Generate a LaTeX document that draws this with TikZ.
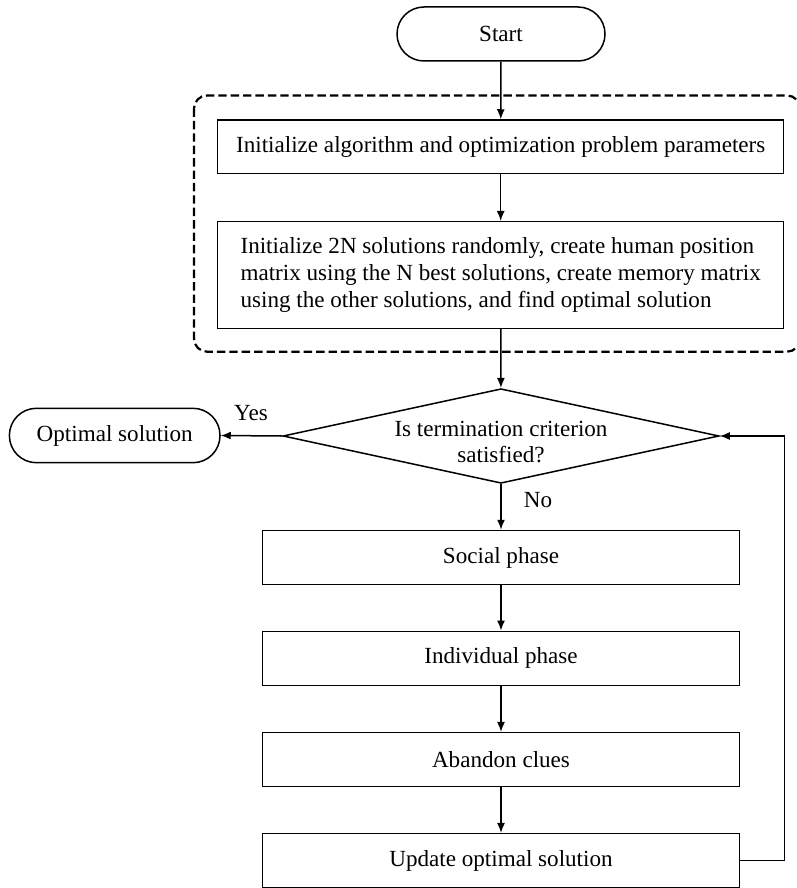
\documentclass[tikz,border=0pt]{standalone}
\usepackage{fontspec}
\setmainfont{Liberation Serif}
\usetikzlibrary{arrows.meta,shapes.geometric}

\begin{document}
\fontsize{11.55}{13.4}\selectfont
\begin{tikzpicture}[x=0.5pt, y=-0.5pt,
        every node/.style={inner sep=0pt},
        terminal/.style={draw, line width=0.75pt, rounded corners=13.5pt, minimum width=104pt, minimum height=27pt},
        process/.style={draw, line width=0.75pt, minimum width=238.5pt, minimum height=27pt},
        initbox/.style={draw, line width=0.75pt, minimum width=283pt},
        decision/.style={draw, line width=0.75pt, diamond, minimum width=218pt, minimum height=47.3pt},
        arrow/.style={-{Latex[length=5pt, width=4pt]}, line width=0.75pt}]
        \useasboundingbox (0, 0) rectangle (797, 888);

        % Draw the start and the initialization steps
        \node[terminal] (start) at (501, 34) {Start};
        \node[initbox, minimum height=26.7pt] (init) at (500.7, 146.7) {Initialize algorithm and optimization problem parameters};
        \node[initbox, minimum height=53.3pt, align=left] (initsol) at (500.7, 275) {Initialize 2N solutions randomly, create human position\\matrix using the N best solutions, create memory matrix\\using the other solutions, and find optimal solution};

        % Draw the dashed frame round the initialization
        \draw[dash pattern=on 4.2pt off 2pt, line width=1.1pt, rounded corners=6.5pt] (194, 95.5) rectangle (800, 351.7);

        % Draw the termination check
        \node[decision] (check) at (501, 436) {};
        \node[align=center] (checktext) at (501, 442) {Is termination criterion\\satisfied?};
        \node[terminal, minimum width=105.3pt, minimum height=27.2pt] (optimal) at (114.7, 435.5) {Optimal solution};
        \node (yes) at (251, 413) {Yes};
        \node (no) at (538, 500) {No};

        % Draw the phases of the main loop
        \node[process] (social) at (501, 557.5) {Social phase};
        \node[process] (individual) at (501, 658.3) {Individual phase};
        \node[process] (abandon) at (501, 759.7) {Abandon clues};
        \node[process] (update) at (501, 860.7) {Update optimal solution};
        \coordinate (loop) at (784.5, 436);

        % Draw the connectors
        \draw[arrow] (start) -- (init);
        \draw[arrow] (init) -- (initsol);
        \draw[arrow] (initsol) -- (check);
        \draw[arrow] (check.west) -- (optimal.east);
        \draw[arrow] (check.south) -- (social.north);
        \draw[arrow] (social) -- (individual);
        \draw[arrow] (individual) -- (abandon);
        \draw[arrow] (abandon) -- (update);
        \draw[arrow] (update.east) -| (loop) -- (check.east);
    \end{tikzpicture}
\end{document}
